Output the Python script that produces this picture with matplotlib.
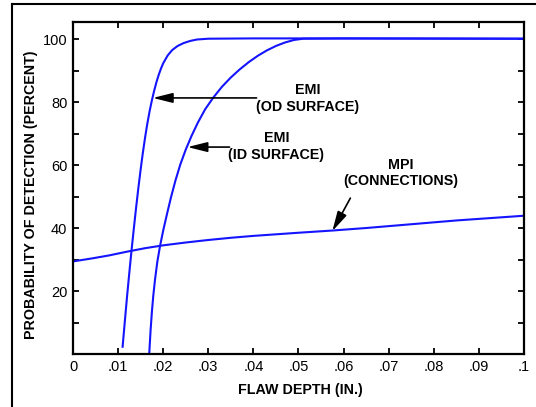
import matplotlib
matplotlib.use("Agg")
import matplotlib.pyplot as plt
from matplotlib.lines import Line2D

plt.rcParams['font.family'] = ['Liberation Sans', 'DejaVu Sans']

# EMI, OD surface (flaw depth in., POD %)
od_depth = [0.0110, 0.0115, 0.0120, 0.0125, 0.0130, 0.0135, 0.0140, 0.0145, 0.0150, 0.0155,
            0.0160, 0.0165, 0.0170, 0.0175, 0.0180, 0.0185, 0.0190, 0.0195, 0.0200, 0.0210,
            0.0220, 0.0232, 0.0245, 0.0260, 0.0275, 0.0300, 0.0400, 0.0500, 0.1000]
od_pod = [2.3, 10.5, 18.5, 26, 33.2, 40, 46.6, 52.8, 58.6, 64,
          68.9, 73.3, 77.2, 80.6, 83.6, 86.3, 88.6, 90.6, 92.3, 94.8,
          96.5, 97.8, 98.7, 99.4, 99.85, 100.1, 100.2, 100.2, 100.1]

# EMI, ID surface
id_depth = [0.0169, 0.0172, 0.0175, 0.0178, 0.0182, 0.0187, 0.0193, 0.0200, 0.0208, 0.0217,
            0.0227, 0.0238, 0.0250, 0.0263, 0.0277, 0.0293, 0.0311, 0.0330, 0.0350, 0.0370,
            0.0390, 0.0410, 0.0430, 0.0450, 0.0470, 0.0490, 0.0510, 0.0600, 0.1000]
id_pod = [0, 7.5, 13.5, 18.5, 23.8, 29.3, 34.3, 39.2, 44.2, 49.6,
          55, 60.2, 64.9, 69.3, 73.5, 77.7, 81.4, 84.8, 87.8, 90.4,
          92.7, 94.7, 96.4, 97.8, 98.9, 99.7, 100.1, 100.2, 100.1]

# MPI, connections
mpi_depth = [0, 0.004, 0.008, 0.012, 0.016, 0.020, 0.025, 0.030, 0.035, 0.040,
             0.045, 0.050, 0.0575, 0.065, 0.075, 0.085, 0.100]
mpi_pod = [29.4, 30.3, 31.3, 32.5, 33.6, 34.5, 35.4, 36.2, 36.9, 37.5,
           38.0, 38.5, 39.2, 40.0, 41.2, 42.4, 43.9]

x_ticks = [0, 0.01, 0.02, 0.03, 0.04, 0.05, 0.06, 0.07, 0.08, 0.09, 0.1]
x_labels = ['0', '.01', '.02', '.03', '.04', '.05', '.06', '.07', '.08', '.09', '.1']
y_ticks = [10, 20, 30, 40, 50, 60, 70, 80, 90, 100]
y_labels = ['', '20', '', '40', '', '60', '', '80', '', '100']

fig = plt.figure(figsize=(5.36, 4.07), dpi=100)
ax = fig.add_axes([0.1362, 0.1302, 0.8414, 0.8157])

blue = '#1414ff'
ax.plot(od_depth, od_pod, color=blue, lw=1.5)
ax.plot(id_depth, id_pod, color=blue, lw=1.5)
ax.plot(mpi_depth, mpi_pod, color=blue, lw=1.5)

ax.set_xlim(0, 0.1)
ax.set_ylim(0, 105.4)
ax.set_xticks(x_ticks)
ax.set_xticklabels(x_labels)
ax.set_yticks(y_ticks)
ax.set_yticklabels(y_labels)
ax.tick_params(direction='in', length=4, width=1.3, labelsize=10.5,
               top=True, right=True, pad=4)
for s in ax.spines.values():
    s.set_linewidth(1.6)

ax.set_xlabel('FLAW DEPTH (IN.)', fontsize=10.3, fontweight='bold')
ax.xaxis.set_label_coords(0.505, -0.087)
ax.set_ylabel('PROBABILITY OF DETECTION (PERCENT)', fontsize=10.3, fontweight='bold')
ax.yaxis.set_label_coords(-0.078, 0.479)

# labels and arrows
arrow = dict(arrowstyle='-|>,head_length=1.2,head_width=0.3', color='k', lw=1.2,
             shrinkA=0, shrinkB=0)
ax.annotate('', xy=(0.0177, 81.3), xytext=(0.0407, 81.3), arrowprops=arrow)
ax.annotate('', xy=(0.0254, 65.7), xytext=(0.0347, 65.7), arrowprops=arrow)
ax.annotate('', xy=(0.0575, 39.0), xytext=(0.0615, 49.5), arrowprops=arrow)

tkw = dict(ha='center', va='center', fontsize=10.3, fontweight='bold', linespacing=1.25)
ax.text(0.052, 81.0, 'EMI\n(OD SURFACE)', **tkw)
ax.text(0.0451, 65.9, 'EMI\n(ID SURFACE)', **tkw)
ax.text(0.0726, 57.5, 'MPI\n(CONNECTIONS)', **tkw)

# outer frame (left and top edges visible)
fx0 = 12 / 536
fy0 = 1 - 4 / 407
fig.add_artist(Line2D([fx0, fx0], [-0.05, fy0], transform=fig.transFigure, color='k', lw=1.5))
fig.add_artist(Line2D([fx0, 1.05], [fy0, fy0], transform=fig.transFigure, color='k', lw=1.5))

plt.savefig('out.png', dpi=100)
